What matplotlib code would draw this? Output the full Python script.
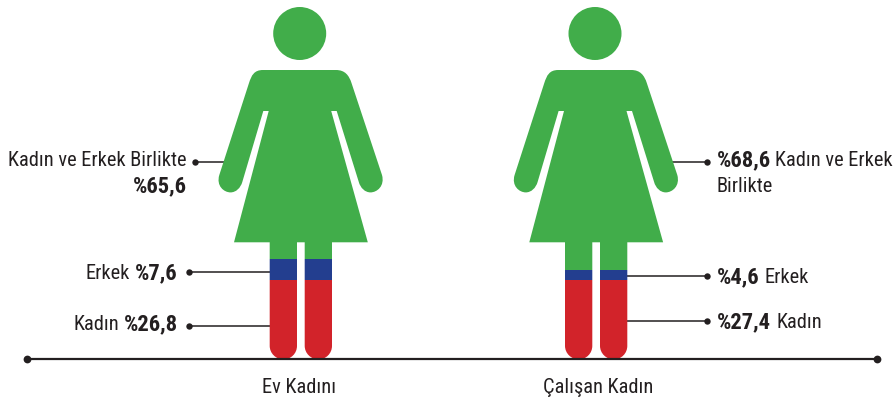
import matplotlib
matplotlib.use("Agg")
import matplotlib.pyplot as plt
from matplotlib.path import Path
from matplotlib.patches import PathPatch, Circle

# ---- data ----
categories = ["Ev Kadını", "Çalışan Kadın"]
kadin_pct = [26.8, 27.4]
erkek_pct = [7.6, 4.6]
birlikte_pct = [65.6, 68.6]
# heights of the bands (pixels: the icon is not to scale)
kadin_band = [79.5, 79.5]
erkek_band = [21.0, 10.4]
birlikte_band = [252.0, 262.0]

GREEN, BLUE, RED, INK = "#41AD4A", "#233E8F", "#D2232A", "#231F20"
FONT = ["Roboto Condensed", "Liberation Sans", "DejaVu Sans"]
FS = 14.7
FS_BOLD = 16.2


def pct(v):
    return "%" + f"{v:.1f}".replace(".", ",")


fig = plt.figure(figsize=(8.96, 4.03), dpi=100)
ax = fig.add_axes([0, 0, 1, 1])
ax.set_xlim(0, 896)
ax.set_ylim(403, 0)
ax.axis("off")

BASE = 359.4


def body_path(o):
    M, L, C = Path.MOVETO, Path.LINETO, Path.CURVE4
    seg = [
        (M, (263, 70)), (L, (336, 70)),
        (C, (345, 70)), (C, (349, 75.4)), (C, (351.5, 83)),      # right shoulder
        (L, (382, 175)),
        (C, (385, 186)), (C, (377, 192.4)), (C, (370.5, 192.4)),  # right hand
        (C, (365, 192.4)), (C, (360.5, 188)), (C, (358.8, 182)),
        (L, (336.7, 111)), (L, (331.2, 111)),
        (L, (367.8, 242.3)), (L, (332, 242.3)),
        (L, (332, BASE - 13.6)),
        (C, (332, BASE - 6)), (C, (326, BASE)), (C, (318.4, BASE)),  # right foot
        (C, (311, BASE)), (C, (304.7, BASE - 6)), (C, (304.7, BASE - 13.6)),
        (L, (304.7, 242.3)), (L, (297, 242.3)),
        (L, (297, BASE - 13.6)),
        (C, (297, BASE - 6)), (C, (291, BASE)), (C, (283.4, BASE)),  # left foot
        (C, (276, BASE)), (C, (269.7, BASE - 6)), (C, (269.7, BASE - 13.6)),
        (L, (269.7, 242.3)), (L, (234, 242.3)),
        (L, (268.7, 111)), (L, (263.3, 111)),
        (L, (242.3, 182)),
        (C, (240.5, 188)), (C, (236, 192.4)), (C, (230.5, 192.4)),   # left hand
        (C, (224, 192.4)), (C, (216, 186)), (C, (219.3, 175)),
        (L, (249, 83)),
        (C, (251.5, 75.4)), (C, (254, 70)), (C, (263, 70)),           # left shoulder
    ]
    verts = [(x + o, y) for _, (x, y) in seg] + [(263 + o, 70)]
    codes = [c for c, _ in seg] + [Path.CLOSEPOLY]
    return Path(verts, codes)


offsets = [0.0, 295.3]
for o, red, blue, green in zip(offsets, kadin_band, erkek_band, birlikte_band):
    clip = PathPatch(body_path(o), transform=ax.transData, fc="none", ec="none")
    ax.add_patch(clip)
    xc = 300.5 + o
    bottom = BASE
    for h, col in ((red, RED), (blue, BLUE), (green, GREEN)):
        bars = ax.bar(xc, -h, bottom=bottom, width=170, color=col, linewidth=0, align="center", zorder=2)
        for b in bars:
            b.set_clip_path(clip)
        bottom -= h
    ax.add_patch(Circle((299.7 + o, 33.5), 26.5, fc=GREEN, ec="none", zorder=2))

# base line
ax.plot([27, 876.5], [BASE, BASE], color=INK, lw=1.6, zorder=3)
ax.plot([27, 876.5], [BASE, BASE], "o", color=INK, ms=5.6, zorder=3, mew=0)


def leader(x0, x1, y):
    ax.plot([x0, x1], [y, y], color=INK, lw=1.1, zorder=1)
    ax.plot([x0], [y], "o", color=INK, ms=4.6, mew=0, zorder=3)


for a, b, y in [(195, 226, 161.7), (188.5, 270, 272.4), (188.5, 270, 325.6),
                (706.7, 671, 161.7), (706.7, 627, 276), (706.7, 627, 321.3)]:
    leader(a, b, y)


def t(x, y, s, ha="left", bold=False):
    ax.text(x, y, s, ha=ha, va="baseline", fontsize=FS_BOLD if bold else FS, color=INK, family=FONT,
            fontweight="bold" if bold else "normal", zorder=4)


# left figure labels
t(187, 166, "Kadın ve Erkek Birlikte", "right")
t(187, 192, pct(birlikte_pct[0]), "right", True)
t(130, 279, "Erkek", "right")
t(178, 279, pct(erkek_pct[0]), "right", True)
t(119, 330, "Kadın", "right")
t(178, 330, pct(kadin_pct[0]), "right", True)

# right figure labels
t(717, 166, pct(birlikte_pct[1]), bold=True)
t(775, 166, "Kadın ve Erkek")
t(717, 192, "Birlikte")
t(717, 283, pct(erkek_pct[1]), bold=True)
t(765, 283, "Erkek")
t(717, 328, pct(kadin_pct[1]), bold=True)
t(776, 328, "Kadın")

# category labels
t(299, 393, categories[0], "center")
t(598.5, 393, categories[1], "center")

fig.savefig("out.png", dpi=100)
